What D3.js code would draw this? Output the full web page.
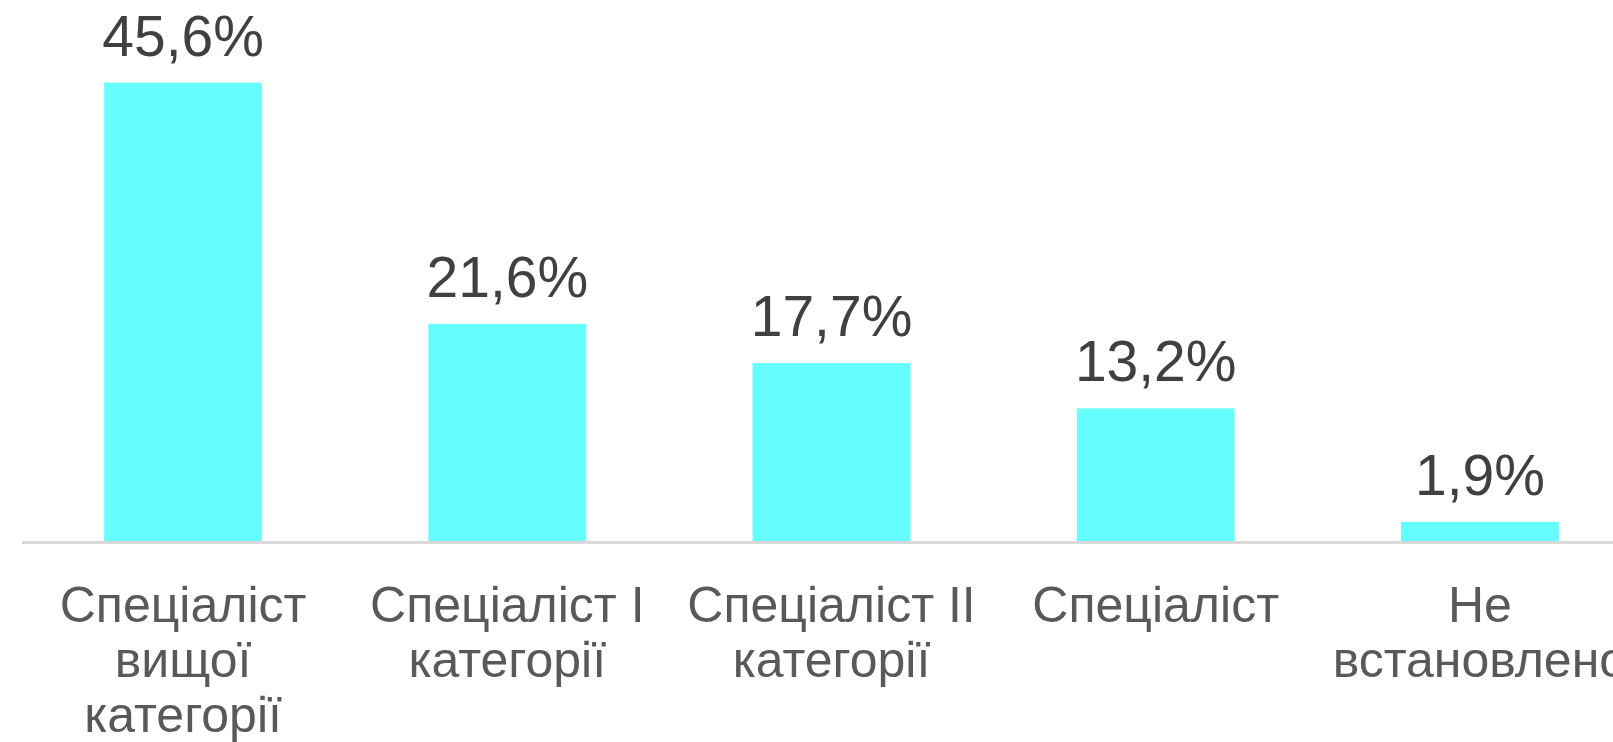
<!DOCTYPE html>
<html>
<head>
<meta charset="utf-8">
<script src="https://cdn.jsdelivr.net/npm/d3@7"></script>
<style>
  body { margin: 0; background: #fff; }
  svg { display: block; }
</style>
</head>
<body>
<svg width="1613" height="742"></svg>
<script>
var categories = ["Спеціаліст вищої категорії", "Спеціаліст І категорії", "Спеціаліст ІІ категорії", "Спеціаліст", "Не встановлено"];
var values = [45.6, 21.6, 17.7, 13.2, 1.9];
var valueLabels = ["45,6%", "21,6%", "17,7%", "13,2%", "1,9%"];

var svg = d3.select("svg"),
  width = +svg.attr("width"),
  height = +svg.attr("height");

var baseY = 541;

var x = d3.scaleBand()
  .domain(categories)
  .range([21, 21 + 5 * 324.2])
  .paddingInner(0.513)
  .paddingOuter(0.2565);

var y = d3.scaleLinear()
  .domain([0, 50])
  .range([baseY, baseY - 502.5]);

var data = categories.map(function(c, i) {
  return { cat: c, value: values[i], label: valueLabels[i] };
});

// bars
svg.append("g")
  .selectAll("rect")
  .data(data)
  .enter().append("rect")
  .attr("x", function(d) { return x(d.cat); })
  .attr("y", function(d) { return y(d.value); })
  .attr("width", x.bandwidth())
  .attr("height", function(d) { return y(0) - y(d.value); })
  .attr("fill", "#66ffff");

// baseline
svg.append("line")
  .attr("x1", x.range()[0] + 1)
  .attr("x2", width)
  .attr("y1", y(0) + 1.5)
  .attr("y2", y(0) + 1.5)
  .attr("stroke", "#d9d9d9")
  .attr("stroke-width", 3);

// value labels
svg.append("g")
  .selectAll("text")
  .data(data)
  .enter().append("text")
  .attr("x", function(d) { return x(d.cat) + x.bandwidth() / 2; })
  .attr("y", function(d) { return y(d.value) - 27; })
  .attr("text-anchor", "middle")
  .style("font-family", "'Liberation Sans', Arial, sans-serif")
  .style("font-size", "57px")
  .attr("fill", "#404040")
  .text(function(d) { return d.label; });

// category labels, wrapped
var catText = svg.append("g")
  .selectAll("text")
  .data(data)
  .enter().append("text")
  .attr("text-anchor", "middle")
  .style("font-family", "'Liberation Sans', Arial, sans-serif")
  .style("font-size", "50px")
  .attr("fill", "#595959")
  .attr("x", function(d) { return x(d.cat) + x.bandwidth() / 2; })
  .attr("y", 622);

catText.each(function(d) {
  wrap(d3.select(this), d.cat, 310);
});

function wrap(text, str, maxW) {
  var words = str.split(" "),
    lines = [],
    line = [];
  var cx = text.attr("x");
  var probe = text.append("tspan");
  words.forEach(function(w) {
    line.push(w);
    probe.text(line.join(" "));
    if (probe.node().getComputedTextLength() > maxW && line.length > 1) {
      line.pop();
      lines.push(line.join(" "));
      line = [w];
    }
  });
  lines.push(line.join(" "));
  probe.remove();
  lines.forEach(function(l, i) {
    text.append("tspan")
      .attr("x", cx)
      .attr("dy", i == 0 ? 0 : 55)
      .text(l);
  });
}
</script>
</body>
</html>
